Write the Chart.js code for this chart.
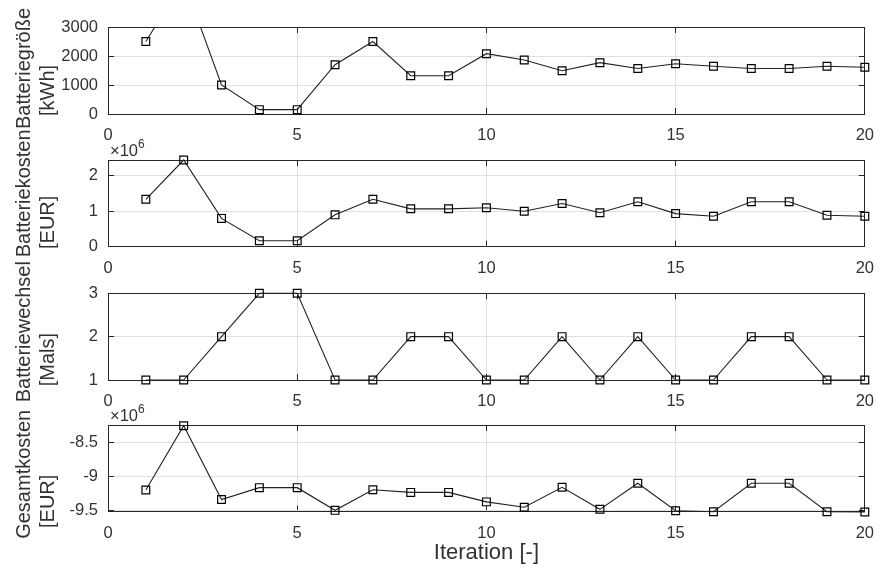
<!DOCTYPE html>
<html>
<head>
<meta charset="utf-8">
<script src="https://cdn.jsdelivr.net/npm/chart.js@4.4.0/dist/chart.umd.min.js"></script>
<style>
  html, body { margin: 0; padding: 0; background: #fff; }
  #wrap { position: relative; width: 892px; height: 572px; }
  #wrap canvas { position: absolute; left: 0; top: 0; }
</style>
</head>
<body>
<div id="wrap">
  <canvas id="c1" width="892" height="572"></canvas>
  <canvas id="c2" width="892" height="572"></canvas>
  <canvas id="c3" width="892" height="572"></canvas>
  <canvas id="c4" width="892" height="572"></canvas>
</div>
<script>
// data
const iterations = [1, 2, 3, 4, 5, 6, 7, 8, 9, 10, 11, 12, 13, 14, 15, 16, 17, 18, 19, 20];
const batteriegroesse = [2500, 4600, 1000, 150, 150, 1700, 2500, 1320, 1320, 2080, 1860, 1490, 1770, 1570, 1735, 1645, 1570, 1570, 1645, 1610];
const batteriekosten = [1.34e6, 2.45e6, 0.80e6, 0.17e6, 0.17e6, 0.90e6, 1.34e6, 1.07e6, 1.07e6, 1.10e6, 1.00e6, 1.22e6, 0.96e6, 1.27e6, 0.935e6, 0.86e6, 1.27e6, 1.27e6, 0.89e6, 0.86e6];
const batteriewechsel = [1, 1, 2, 3, 3, 1, 1, 2, 2, 1, 1, 2, 1, 2, 1, 1, 2, 2, 1, 1];
const gesamtkosten = [-9.20e6, -8.25e6, -9.34e6, -9.165e6, -9.165e6, -9.50e6, -9.195e6, -9.235e6, -9.235e6, -9.375e6, -9.455e6, -9.16e6, -9.485e6, -9.10e6, -9.505e6, -9.52e6, -9.10e6, -9.10e6, -9.52e6, -9.525e6];

const xTicks = [0, 5, 10, 15, 20];
const yTicks1 = [0, 1000, 2000, 3000];
const yTicks2 = [0, 1e6, 2e6];
const yTicks3 = [1, 2, 3];
const yTicks4 = [-9.5e6, -9e6, -8.5e6];

const FONT = '"Liberation Sans", Arial, Helvetica, sans-serif';
const TXT = '#333333';
const AXIS = '#262626';
const GRID = '#e0e0e0';

// draws the two-line ylabel and the x10^n factor
const panelText = {
  id: 'panelText',
  afterDraw(chart, args, o) {
    const { ctx, chartArea: a } = chart;
    const mid = (a.top + a.bottom) / 2;
    ctx.save();
    ctx.fillStyle = TXT;
    ctx.font = '20px ' + FONT;
    ctx.textAlign = 'center';
    ctx.textBaseline = 'middle';
    o.lines.forEach((t, i) => {
      ctx.save();
      ctx.translate(o.xs[i], mid + o.shift[i]);
      ctx.rotate(-Math.PI / 2);
      ctx.fillText(t, 0, 0);
      ctx.restore();
    });
    if (o.exponent) {
      ctx.textAlign = 'left';
      ctx.textBaseline = 'alphabetic';
      ctx.font = '16.5px ' + FONT;
      ctx.fillText('×10', a.left + 2, a.top - 4);
      const w = ctx.measureText('×10').width;
      ctx.font = '12px ' + FONT;
      ctx.fillText(o.exponent, a.left + 2 + w, a.top - 12);
    }
    ctx.restore();
  }
};

function setTicks(arr) {
  return s => { s.ticks = arr.map(v => ({ value: v })); };
}

function makePanel(id, series, yTicks, yMin, yMax, top, bottom, text, extra) {
  const xH = extra.xTitle ? 54 : 40;
  const fmt = extra.scale ? (v => String(+(v / extra.scale).toFixed(2))) : (v => String(v));
  return new Chart(document.getElementById(id), {
    type: 'line',
    data: {
      datasets: [{
        data: iterations.map((x, i) => ({ x: x, y: series[i] })),
        borderColor: '#222',
        borderWidth: 1.1,
        pointStyle: 'rect',
        pointRadius: 5.5,
        pointBorderColor: '#000',
        pointBorderWidth: 1.2,
        pointBackgroundColor: 'rgba(0,0,0,0)',
        tension: 0,
        clip: extra.clip
      }]
    },
    options: {
      responsive: false,
      animation: false,
      events: [],
      layout: { padding: { left: 0, right: 892 - 880, top: top, bottom: 572 - bottom - xH } },
      plugins: {
        legend: { display: false },
        tooltip: { enabled: false },
        panelText: text
      },
      scales: {
        x: {
          type: 'linear', position: 'bottom', min: 0, max: 20,
          afterBuildTicks: setTicks(xTicks),
          afterFit: s => { s.height = xH; },
          grid: { color: GRID, tickColor: AXIS, tickLength: -6 },
          border: { color: AXIS, width: 1 },
          ticks: { color: TXT, font: { family: FONT, size: 16.5 }, padding: 18, maxRotation: 0, autoSkip: false },
          title: extra.xTitle ? { display: true, text: extra.xTitle, color: TXT, font: { family: FONT, size: 22 }, padding: 0 } : { display: false }
        },
        x2: {
          type: 'linear', position: 'top', min: 0, max: 20,
          afterBuildTicks: setTicks(xTicks),
          afterFit: s => { s.height = 0; },
          grid: { drawOnChartArea: false, tickColor: AXIS, tickLength: -6 },
          border: { color: AXIS, width: 1 },
          ticks: { display: false }
        },
        y: {
          type: 'linear', position: 'left', min: yMin, max: yMax,
          afterBuildTicks: setTicks(yTicks),
          afterFit: s => { s.width = 108; },
          grid: { color: GRID, tickColor: AXIS, tickLength: -6 },
          border: { color: AXIS, width: 1 },
          ticks: { color: TXT, font: { family: FONT, size: 16.5 }, padding: 16, callback: fmt }
        },
        y2: {
          type: 'linear', position: 'right', min: yMin, max: yMax,
          afterBuildTicks: setTicks(yTicks),
          afterFit: s => { s.width = 0; },
          grid: { drawOnChartArea: false, tickColor: AXIS, tickLength: -6 },
          border: { color: AXIS, width: 1 },
          ticks: { display: false }
        }
      }
    },
    plugins: [panelText]
  });
}

makePanel('c1', batteriegroesse, yTicks1, 0, 3000, 27, 114,
  { lines: ['Batteriegröße', '[kWh]'], xs: [24, 48], shift: [-2, 20] },
  { clip: { left: 8, right: 8, top: 0, bottom: 8 } });

makePanel('c2', batteriekosten, yTicks2, 0, 2.45e6, 160, 246.7,
  { lines: ['Batteriekosten', '[EUR]'], xs: [24, 48], shift: [-10, 19], exponent: '6' },
  { clip: 8, scale: 1e6 });

makePanel('c3', batteriewechsel, yTicks3, 1, 3, 293.3, 380,
  { lines: ['Batteriewechsel', '[Mals]'], xs: [24, 48], shift: [-5, 23] },
  { clip: 8 });

makePanel('c4', gesamtkosten, yTicks4, -9.52e6, -8.24e6, 425, 511.7,
  { lines: ['Gesamtkosten', '[EUR]'], xs: [24, 48], shift: [6, 33], exponent: '6' },
  { clip: 8, scale: 1e6, xTitle: 'Iteration [-]' });
</script>
</body>
</html>
